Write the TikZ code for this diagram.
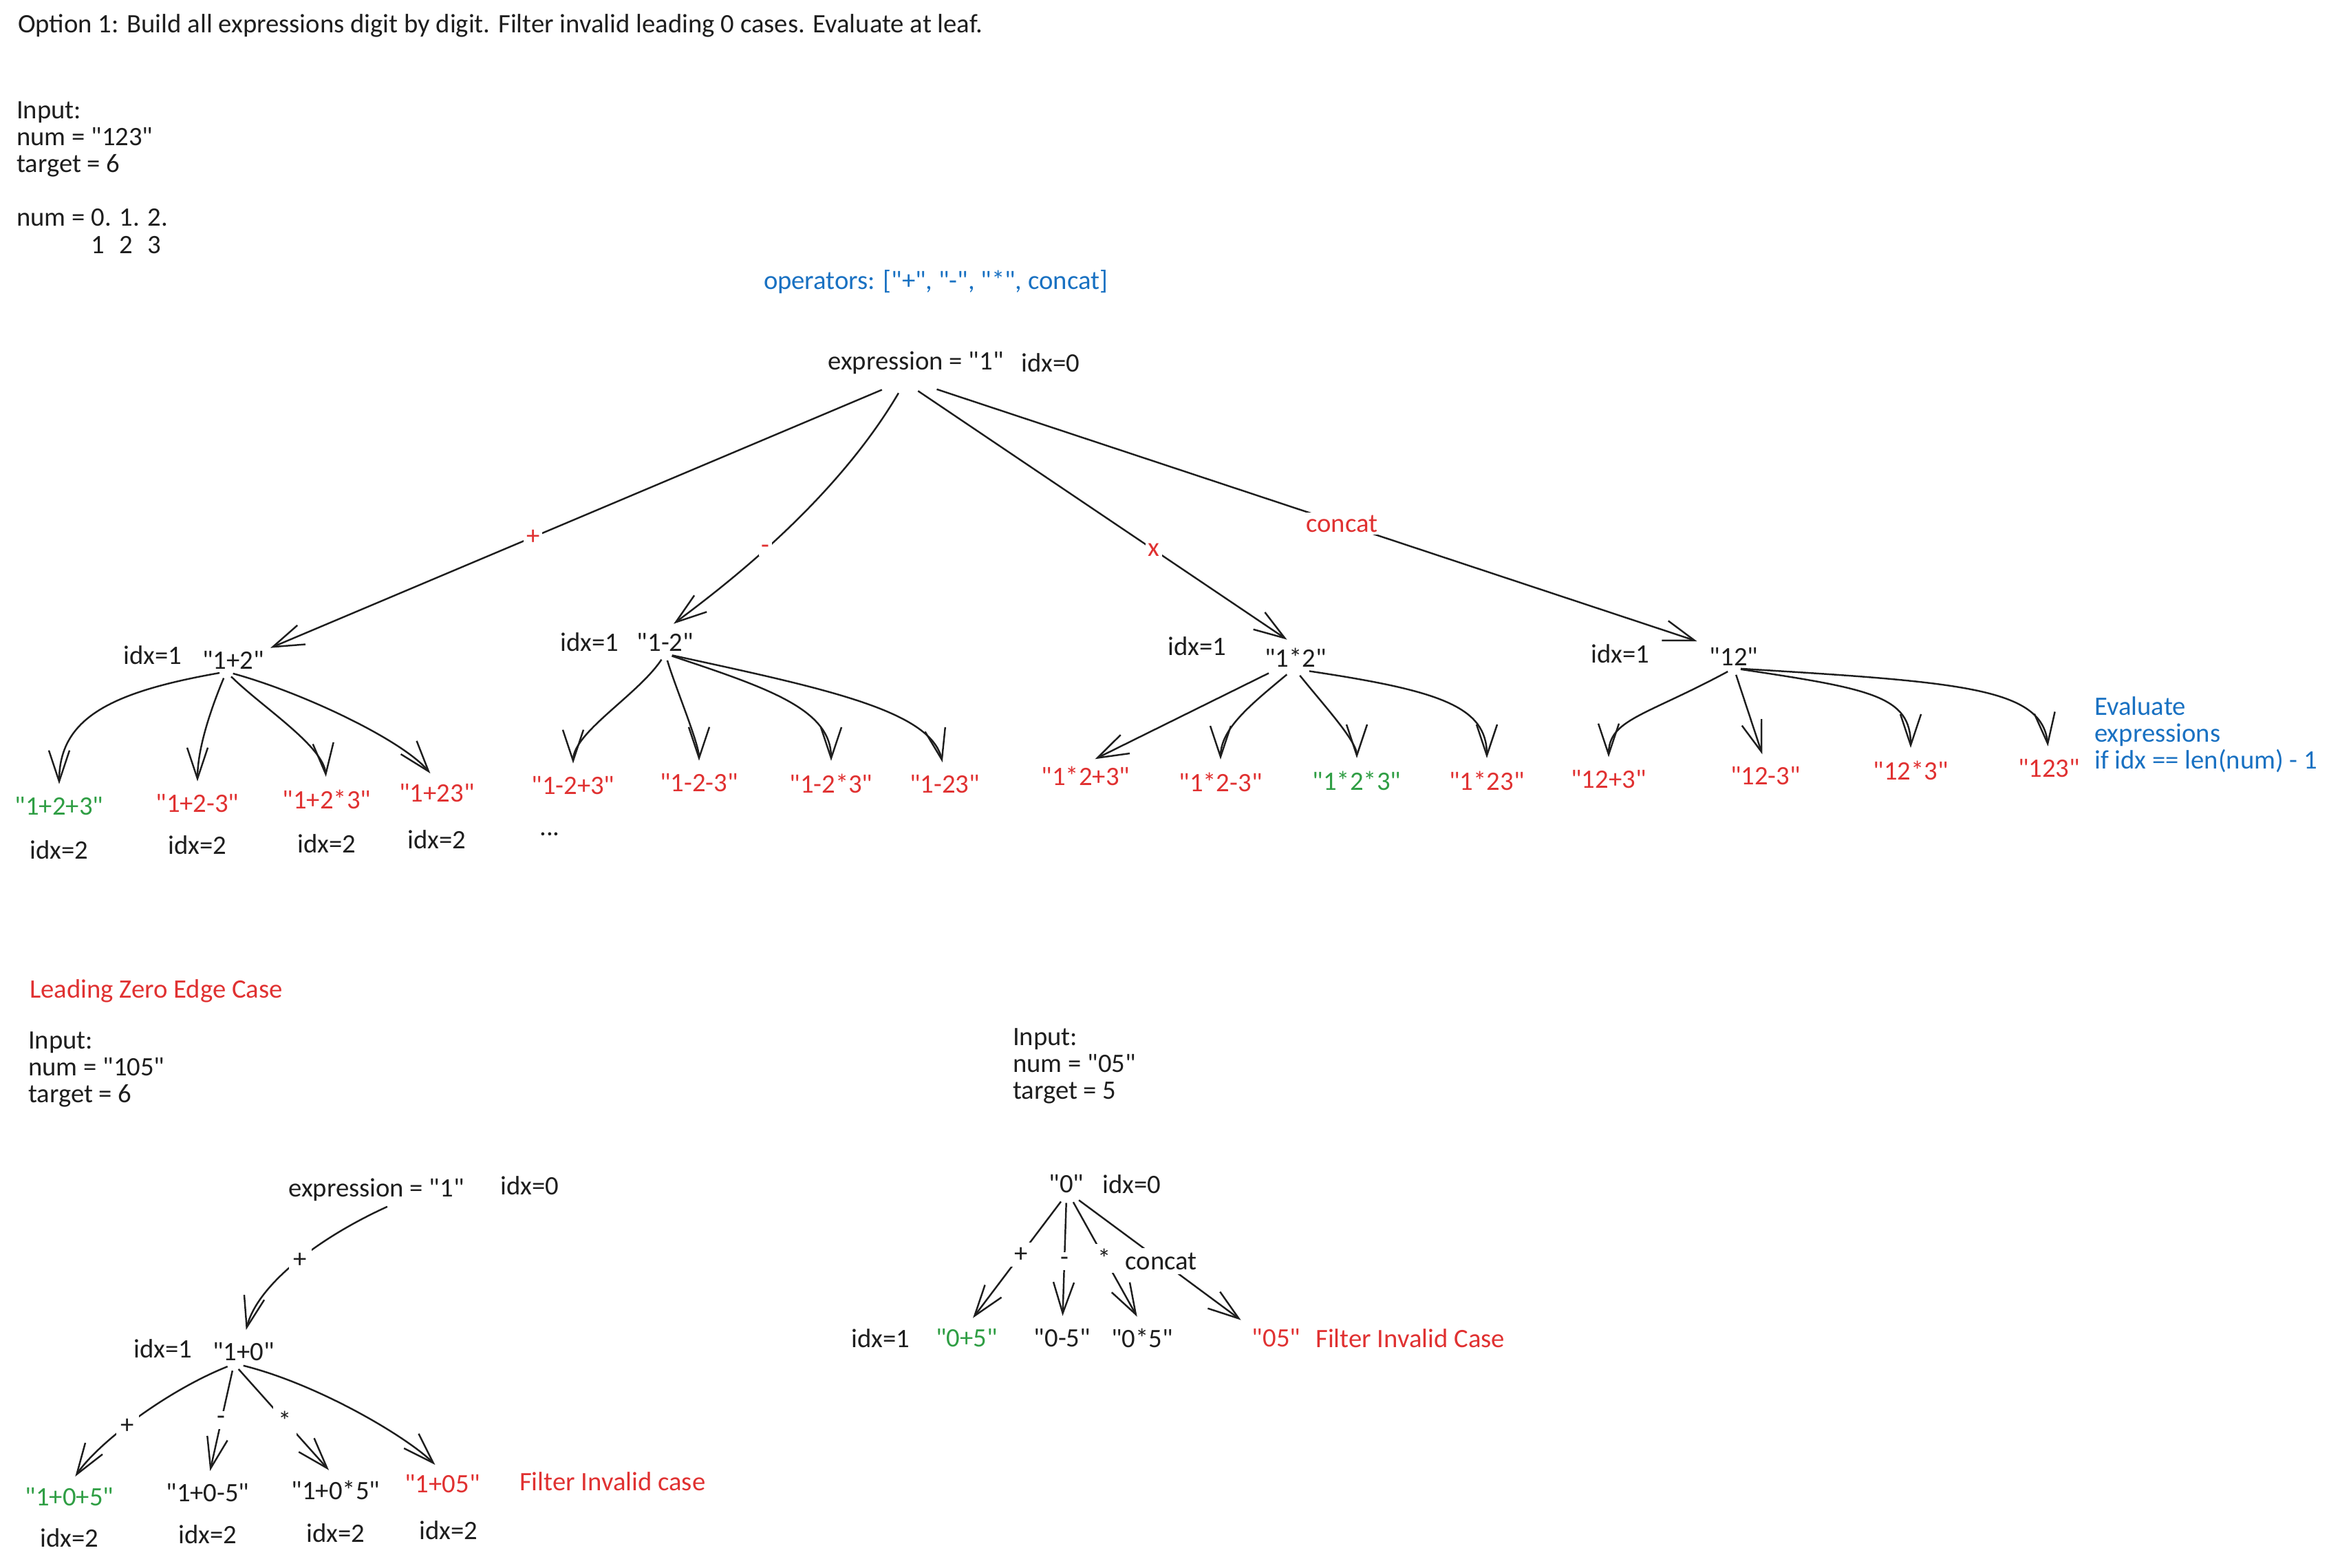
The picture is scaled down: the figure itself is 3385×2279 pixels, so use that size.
\documentclass[tikz,border=0pt]{standalone}
\usepackage{fontspec}
\newfontfamily\xfont{Carlito}
\usepackage{tikz}
\usetikzlibrary{arrows.meta}
\definecolor{ink}{HTML}{1E1E1E}
\definecolor{exred}{HTML}{E03131}
\definecolor{exgreen}{HTML}{2F9E44}
\definecolor{exblue}{HTML}{1971C2}
\newcommand{\fsz}{\xfont\fontsize{11}{11.2}\selectfont}
\tikzset{
	txt/.style={font=\fsz, text=ink, inner sep=1pt},
	bad/.style={txt, text=exred},
	good/.style={txt, text=exgreen},
	note/.style={txt, text=exblue},
	oplbl/.style={txt, fill=white, inner sep=2pt},
	link/.style={draw=ink, line width=0.7pt, shorten >=1.5mm, shorten <=1mm, -{Straight Barb[length=4.5mm,width=3mm]}},
}
\begin{document}
\begin{tikzpicture}[x=0.01cm, y=-0.01cm]
			\useasboundingbox (0,0) rectangle (3385,2279);
			
			\node[txt, anchor=west] (T) at (22,37) {Option 1: Build all expressions digit by digit. Filter invalid leading 0 cases. Evaluate at leaf.};
			\node[txt, anchor=north west, align=left] (I) at (20,143) {Input:\\num = "123"\\target = 6\\[11pt]num = 0. 1. 2.\\\phantom{num = }1\phantom{. }2\phantom{. }3};
			\node[note] (O) at (1360,410) {operators: ["+", "-", "*", concat]};
			
			\node[txt](R) at (1331,527) {expression = "1"};
			\node[txt, right of=R, xshift=0.96cm] (r) {idx=0};
			
			\node[txt](B) at (339,959) {"1+2"};
			\node[txt, left of=B, xshift=-0.17cm, yshift=0.07cm] (b) {idx=1};
			\node[txt](C) at (967,933) {"1-2"};
			\node[txt, left of=C, xshift=-0.1cm] (c) {idx=1};
			\node[txt](D) at (1883,956) {"1*2"};
			\node[txt, left of=D, xshift=-0.43cm, yshift=0.17cm] (d) {idx=1};
			\node[txt](E) at (2520,954) {"12"};
			\node[txt, left of=E, xshift=-0.65cm, yshift=0.04cm] (e) {idx=1};
			
			\draw[link, shorten >=0pt] ([xshift=-0.4cm,yshift=-0.15cm]R.south) -- ([xshift=0.05cm]B.north east) node[bad, fill=white, pos=0.575] (p1) {+};
			\draw[link] ([xshift=-0.2cm,yshift=-0.15cm]R.south) .. controls +(-100,170) and +(80,-60) .. (C.north) node[bad, fill=white, pos=0.55] (p2) {-};
			\draw[link] ([xshift=-0.05cm,yshift=-0.15cm]R.south) -- (D.north) node[bad, fill=white, pos=0.63] (p3) {x};
			\draw[link] ([xshift=0.21cm,yshift=-0.15cm]R.south) -- (E.north west) node[bad, fill=white, pos=0.53] (p4) {concat};
			
			% idx=2 under "1+2"
			\node[good](B1) at (86,1172) {"1+2+3"};
			\node[bad](B2) at (287,1168) {"1+2-3"};
			\node[bad](B3) at (475,1162) {"1+2*3"};
			\node[bad](B4) at (635,1153) {"1+23"};
			\node[txt, below of=B1, yshift=0.37cm] (b1) {idx=2};
			\node[txt, below of=B2, yshift=0.4cm] (b2) {idx=2};
			\node[txt, below of=B3, yshift=0.36cm] (b3) {idx=2};
			\node[txt, below of=B4, yshift=0.33cm] (b4) {idx=2};
			\draw[link] ([xshift=-0.1cm]B.south) .. controls +(-170,30) and +(0,-110) .. (B1.north);
			\draw[link] ([xshift=-0.1cm]B.south) .. controls +(-25,60) and +(0,-60) .. (B2.north);
			\draw[link] ([xshift=-0.1cm]B.south) .. controls +(50,50) and +(-5,-60) .. (B3.north);
			\draw[link] ([xshift=-0.1cm]B.south) .. controls +(110,30) and +(-50,-60) .. (B4.north);
			\node[txt](dots) at (799,1212) {...};
			
			\node[bad](C1) at (833,1142) {"1-2+3"};
			\node[bad](C2) at (1016,1138) {"1-2-3"};
			\node[bad](C3) at (1208,1139) {"1-2*3"};
			\node[bad](C4) at (1373,1140) {"1-23"};
			\draw[link] (C.south) .. controls +(-40,60) and +(0,-60) .. (C1.north);
			\draw[link] (C.south) .. controls +(15,50) and +(0,-40) .. (C2.north);
			\draw[link] (C.south) .. controls +(150,50) and +(0,-90) .. (C3.north);
			\draw[link] (C.south) .. controls +(230,50) and +(-20,-90) .. (C4.north);
			
			\node[bad](D1) at (1578,1128) {"1*2+3"};
			\node[bad](D2) at (1774,1137) {"1*2-3"};
			\node[good](D3) at (1972,1135) {"1*2*3"};
			\node[bad](D4) at (2161,1135) {"1*23"};
			\draw[link] ([xshift=-0.3cm]D.south) -- (D1.north);
			\draw[link] ([xshift=-0.05cm]D.south) .. controls +(-60,50) and +(0,-60) .. (D2.north);
			\draw[link] (D.south) .. controls +(40,50) and +(0,-40) .. (D3.north);
			\draw[link] ([xshift=0.1cm]D.south) .. controls +(200,30) and +(0,-90) .. (D4.north);
			
			\node[bad](E1) at (2338,1133) {"12+3"};
			\node[bad](E2) at (2566,1128) {"12-3"};
			\node[bad](E3) at (2777,1120) {"12*3"};
			\node[bad](E4) at (2978,1117) {"123"};
			\draw[link] (E.south) .. controls +(-130,70) and +(0,-70) .. (E1.north);
			\draw[link] (E.south) -- (E2.north);
			\draw[link] (E.south) .. controls +(200,30) and +(0,-90) .. (E3.north);
			\draw[link] (E.south) .. controls +(330,20) and +(-10,-100) .. (E4.north);
			
			\node[note, anchor=north west, align=left] (N) at (3040,1008) {Evaluate\\expressions\\if idx == len(num) - 1};
			
			% leading zero
			\node[bad, anchor=west] (L) at (39,1440) {Leading Zero Edge Case};
			\node[txt, anchor=north west, align=left] (J) at (37,1495) {Input:\\num = "105"\\target = 6};
			\node[txt](S) at (547,1729) {expression = "1"};
			\node[txt, right of=S, xshift=1.23cm, yshift=0.06cm] (s) {idx=0};
			\node[txt](F) at (354,1965) {"1+0"};
			\node[txt, left of=F, xshift=-0.17cm, yshift=0.05cm] (f) {idx=1};
			\draw[link] ([xshift=0.25cm]S.south) .. controls +(-110,50) and +(20,-80) .. (F.north) node[oplbl, pos=0.47] (q0) {+};
			
			\node[good](F1) at (101,2176) {"1+0+5"};
			\node[txt](F2) at (302,2170) {"1+0-5"};
			\node[txt](F3) at (488,2166) {"1+0*5"};
			\node[bad](F4) at (643,2157) {"1+05"};
			\node[txt, below of=F1, yshift=0.41cm] (f1) {idx=2};
			\node[txt, below of=F2, yshift=0.4cm] (f2) {idx=2};
			\node[txt, below of=F3, yshift=0.38cm] (f3) {idx=2};
			\node[txt, below of=F4, xshift=0.09cm, yshift=0.33cm] (f4) {idx=2};
			\draw[link] ([xshift=-0.14cm]F.south) .. controls +(-100,40) and +(40,-60) .. (F1.north) node[oplbl, pos=0.55] (q1) {+};
			\draw[link] ([xshift=-0.14cm]F.south) -- (F2.north) node[oplbl, pos=0.48] (q2) {-};
			\draw[link] ([xshift=-0.14cm]F.south) -- (F3.north) node[oplbl, pos=0.5] (q3) {*};
			\draw[link] ([xshift=-0.1cm]F.south) .. controls +(120,30) and +(-50,-50) .. (F4.north);
			\node[bad, anchor=west] (G) at (751,2153) {Filter Invalid case};
			
			% "05"
			\node[txt, anchor=north west, align=left] (K) at (1468,1490) {Input:\\num = "05"\\target = 5};
			\node[txt](Z) at (1550,1721) {"0"};
			\node[txt, right of=Z, xshift=-0.05cm] (z) {idx=0};
			\node[good](Z1) at (1405,1945) {"0+5"};
			\node[txt](Z2) at (1544,1945) {"0-5"};
			\node[txt](Z3) at (1660,1945) {"0*5"};
			\node[bad](Z4) at (1855,1945) {"05"};
			\node[txt, left of=Z1, xshift=-0.25cm] (z1) {idx=1};
			\draw[link] ([xshift=-0.02cm]Z.south) -- (Z1.north) node[oplbl, pos=0.45] (u1) {+};
			\draw[link] (Z.south) -- (Z2.north) node[oplbl, pos=0.5] (u2) {-};
			\draw[link] ([xshift=0.05cm]Z.south) -- (Z3.north) node[oplbl, pos=0.48] (u3) {*};
			\draw[link] ([xshift=0.1cm]Z.south) -- (Z4.north west) node[oplbl, pos=0.5] (u4) {concat};
			\node[bad, anchor=west] (H) at (1908,1945) {Filter Invalid Case};
			
			\end{tikzpicture}
\end{document}
